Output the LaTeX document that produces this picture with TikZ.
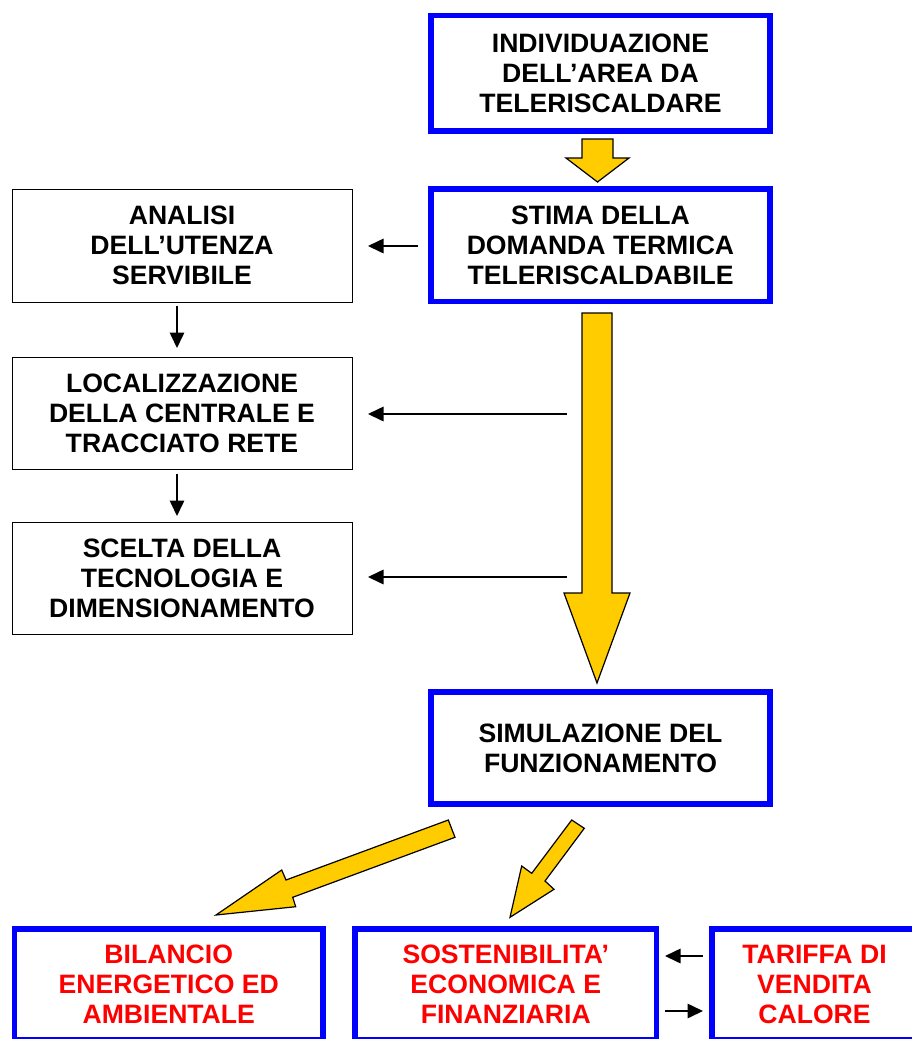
\documentclass[tikz,border=0pt]{standalone}
\usepackage{fontspec}
\setmainfont{Liberation Sans}
\usetikzlibrary{arrows.meta}
\definecolor{ylw}{HTML}{FFCC00}
\definecolor{bl}{HTML}{0000FF}
\definecolor{rd}{HTML}{FF0000}
\begin{document}
\begin{tikzpicture}[x=1pt,y=-1pt,
  txt/.style={font=\fontsize{26.6}{30}\selectfont\bfseries, align=center, inner sep=0pt},
  bluebox/.style={txt, draw=bl, line width=5.5pt, rectangle, fill=white},
  thinbox/.style={txt, draw=black, line width=1pt, rectangle, fill=white},
  redtxt/.style={text=rd},
  conn/.style={line width=1.6pt, -{Triangle[length=15.5pt,width=14.5pt]}},
  bigarrow/.style={fill=ylw, draw=black, line width=1.2pt, line join=miter}]
\useasboundingbox (0,0) rectangle (912,1039);
\clip (0,0) rectangle (912,1039);
\fill[white] (0,0) rectangle (912,1039);

% right column (blue boxes)
\node[bluebox, minimum width=339pt, minimum height=115.5pt] (ind) at (600.5,73.25) {INDIVIDUAZIONE\\DELL’AREA DA\\TELERISCALDARE};
\node[bluebox, minimum width=339pt, minimum height=112.5pt] (stima) at (600.5,245.25) {STIMA DELLA\\DOMANDA TERMICA\\TELERISCALDABILE};
\node[bluebox, minimum width=339pt, minimum height=112pt] (sim) at (600.5,748) {SIMULAZIONE DEL\\FUNZIONAMENTO};

% left column (thin boxes)
\node[thinbox, minimum width=340pt, minimum height=113pt] (ana) at (182,245.5) {ANALISI\\DELL’UTENZA\\SERVIBILE};
\node[thinbox, minimum width=340pt, minimum height=112pt] (loc) at (182,413) {LOCALIZZAZIONE\\DELLA CENTRALE E\\TRACCIATO RETE};
\node[thinbox, minimum width=340pt, minimum height=112pt] (sce) at (182,578) {SCELTA DELLA\\TECNOLOGIA E\\DIMENSIONAMENTO};

% bottom row
\node[bluebox, redtxt, minimum width=308.5pt, minimum height=111pt] (bil) at (168.75,984.5) {BILANCIO\\ENERGETICO ED\\AMBIENTALE};
\node[bluebox, redtxt, minimum width=301.5pt, minimum height=111pt] (sost) at (505.75,984.5) {SOSTENIBILITA’\\ECONOMICA E\\FINANZIARIA};
\node[bluebox, redtxt, minimum width=205pt, minimum height=111pt] (tar) at (814.5,984.5) {TARIFFA DI\\VENDITA\\CALORE};

% yellow block arrows
\draw[bigarrow] (582,139) -- (613,139) -- (613,158) -- (629,158) -- (597.5,182) -- (566,158) -- (582,158) -- cycle;
\draw[bigarrow] (582,313) -- (612,313) -- (612,593) -- (630,593) -- (597,683) -- (564,593) -- (582,593) -- cycle;
\draw[bigarrow] (448.3,820) -- (455,837.3) -- (292.7,897.3) -- (295.7,906.7) -- (216,915) -- (281.7,870) -- (286,880) -- cycle;
\draw[bigarrow] (571.7,820) -- (584.3,828.3) -- (545,881) -- (554,889.3) -- (510,917.3) -- (521.7,866) -- (531.7,873.3) -- cycle;

% thin connectors
\coordinate (c1) at (418,246);
\coordinate (c2) at (567,414);
\coordinate (c3) at (567,577);
\draw[conn, shorten >=15.5pt] (c1) -- (c1 -| ana.east);
\draw[conn, shorten >=15.5pt] (c2) -- (c2 -| loc.east);
\draw[conn, shorten >=15.5pt] (c3) -- (c3 -| sce.east);
\draw[conn, shorten <=3.5pt, shorten >=8.5pt] ([xshift=-5pt]ana.south) -- ([xshift=-5pt]loc.north);
\draw[conn, shorten <=4.5pt, shorten >=5.5pt] ([xshift=-5pt]loc.south) -- ([xshift=-5pt]sce.north);

\coordinate (t1) at (703,956);
\coordinate (s2) at (665,1011);
\draw[conn, shorten >=5.75pt] (t1) -- (t1 -| sost.east);
\draw[conn, shorten >=6.25pt] (s2) -- (s2 -| tar.west);
\end{tikzpicture}
\end{document}
